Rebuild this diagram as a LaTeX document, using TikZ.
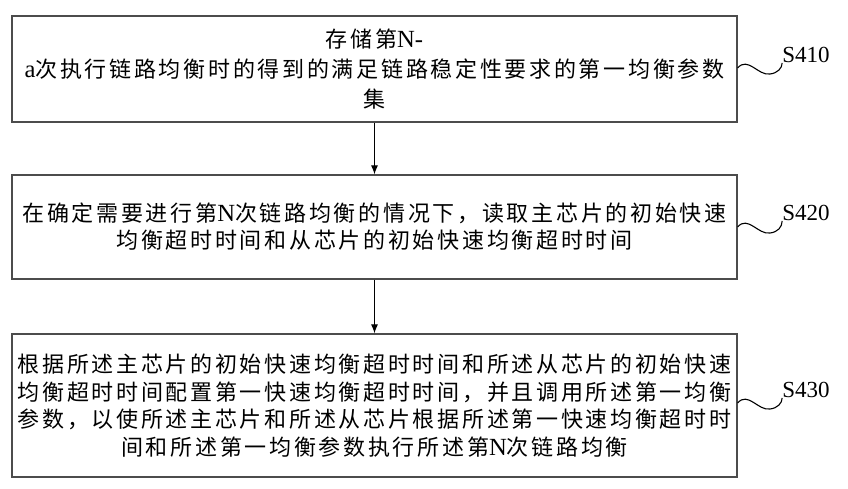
\documentclass[tikz,border=0pt]{standalone}
\usepackage{fontspec}
\usetikzlibrary{arrows.meta}
\setmainfont{Liberation Serif}
\newfontfamily\latf[Scale=1.12]{Liberation Serif}
\newfontfamily\cjk[LetterSpace=12.3]{Noto Sans CJK SC}
\newcommand\lat[1]{{\latf #1}}
\begin{document}
\begin{tikzpicture}[x=1pt,y=-1pt,
  stepbox/.style={draw=black!70,line width=1.3pt,rectangle,minimum width=725pt,align=center,inner sep=0pt},
  flow/.style={-{Latex[length=9pt,width=7pt]},line width=1pt,black},
  lbl/.style={font=\fontsize{23}{26}\selectfont\rmfamily,inner sep=0pt},
  squig/.style={line width=1.1pt,black}]
\useasboundingbox (0,0) rectangle (848,488);
\node[stepbox,minimum height=106pt,font=\fontsize{22}{30}\selectfont\cjk] (b1) at (374.5,69)
  {存储第\lat{N-}\\\lat{a}次执行链路均衡时的得到的满足链路稳定性要求的第一均衡参数\\集};
\node[stepbox,minimum height=104pt,font=\fontsize{22}{27}\selectfont\cjk] (b2) at (374.5,227)
  {在确定需要进行第\lat{N}次链路均衡的情况下，读取主芯片的初始快速\\均衡超时时间和从芯片的初始快速均衡超时时间};
\node[stepbox,minimum height=143pt,font=\fontsize{22}{27.7}\selectfont\cjk] (b3) at (374.5,405.5)
  {根据所述主芯片的初始快速均衡超时时间和所述从芯片的初始快速\\均衡超时时间配置第一快速均衡超时时间，并且调用所述第一均衡\\参数，以使所述主芯片和所述从芯片根据所述第一快速均衡超时时\\间和所述第一均衡参数执行所述第\lat{N}次链路均衡};
\draw[flow] (b1) -- (b2);
\draw[flow] (b2) -- (b3);
\node[lbl] (l1) at (806,55) {S410};
\node[lbl] (l2) at (806,213) {S420};
\node[lbl] (l3) at (806,390) {S430};
\coordinate (s1) at (737.6,68);
\coordinate (s2) at (737.6,227);
\coordinate (s3) at (737.6,403);
\draw[squig] (s1) .. controls (748,56) and (758,76) .. (770,74) .. controls (778,73) and (782,68) .. (l1.south west);
\draw[squig] (s2) .. controls (748,215) and (758,235) .. (770,233) .. controls (778,232) and (782,227) .. (l2.south west);
\draw[squig] (s3) .. controls (748,391) and (758,411) .. (770,409) .. controls (778,408) and (782,403) .. (l3.south west);
\end{tikzpicture}
\end{document}
